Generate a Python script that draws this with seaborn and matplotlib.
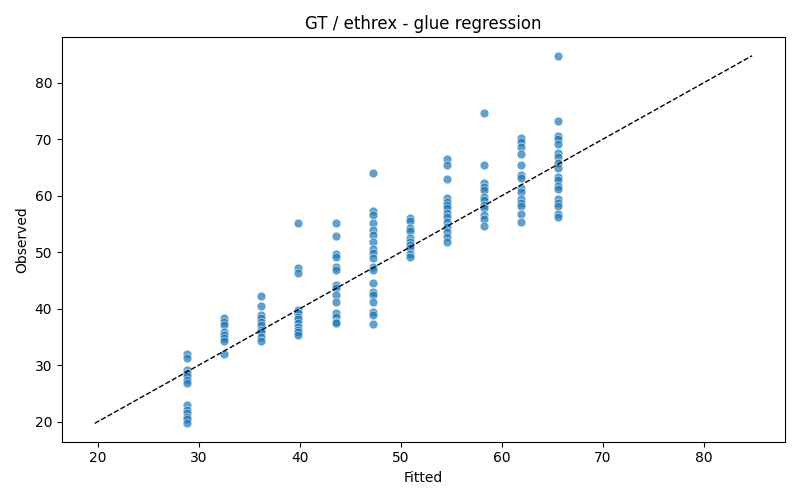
import matplotlib
matplotlib.use("Agg")
import matplotlib.pyplot as plt
import seaborn as sns
import numpy as np
import pandas as pd

fitted_levels = [28.84, 32.51, 36.19, 39.86, 43.54, 47.21, 50.88, 54.56, 58.23, 61.90, 65.58]

obs_c1 = [31.9, 31.3, 29.2, 28.7, 28.0, 27.4, 26.9, 23.0, 22.1, 21.6, 20.9, 20.4, 19.7]
obs_c2 = [38.4, 37.7, 37.2, 35.8, 35.4, 34.9, 34.2, 32.0]
obs_c3 = [42.3, 40.4, 38.9, 38.4, 37.7, 37.2, 36.3, 35.8, 35.0, 34.2]
obs_c4 = [55.2, 47.2, 46.3, 39.8, 39.3, 38.6, 38.1, 37.5, 36.8, 36.3, 35.8, 35.4]
obs_c5 = [55.2, 52.8, 49.7, 49.2, 47.4, 46.9, 44.2, 43.7, 42.5, 41.1, 39.3, 38.6, 37.7, 37.5]
obs_c6 = [64.1, 57.3, 56.6, 55.2, 54.0, 53.1, 51.9, 50.6, 49.9, 49.0, 47.4, 46.9,
          44.6, 43.0, 42.5, 41.1, 39.5, 38.9, 37.3]
obs_c7 = [56.1, 55.5, 54.3, 53.8, 52.6, 51.9, 51.3, 50.7, 49.7, 49.2]
obs_c8 = [66.5, 65.5, 63.0, 59.6, 58.9, 58.4, 57.9, 57.0, 56.3, 55.4, 54.5, 53.6, 52.7, 51.9]
obs_c9 = [74.7, 65.5, 62.3, 61.6, 61.1, 59.8, 59.3, 58.4, 57.9, 56.6, 55.8, 54.7]
obs_c10 = [70.3, 69.6, 68.7, 67.4, 65.5, 63.7, 63.2, 61.4, 60.7, 59.5, 58.8, 58.1, 56.8, 55.4]
obs_c11 = [84.8, 73.3, 70.5, 70.1, 69.2, 67.6, 66.9, 65.8, 65.0, 63.4, 62.8, 61.8, 61.2,
           59.5, 58.8, 58.1, 56.8, 56.3]

columns = [obs_c1, obs_c2, obs_c3, obs_c4, obs_c5, obs_c6, obs_c7, obs_c8, obs_c9, obs_c10, obs_c11]

fitted = []
observed = []
for fx, col in zip(fitted_levels, columns):
    fitted.extend([fx] * len(col))
    observed.extend(col)

df = pd.DataFrame({"Fitted": fitted, "Observed": observed})

fig, ax = plt.subplots(figsize=(8, 5), dpi=100)
sns.scatterplot(data=df, x="Fitted", y="Observed", ax=ax, alpha=0.7, s=40,
                color="#1f77b4")
lo = min(observed)
hi = max(observed)
ax.plot([lo, hi], [lo, hi], "k--", linewidth=1)
ax.set_title("GT / ethrex - glue regression")
ax.set_xlabel("Fitted")
ax.set_ylabel("Observed")
fig.tight_layout()
fig.savefig("out.png", dpi=100)
